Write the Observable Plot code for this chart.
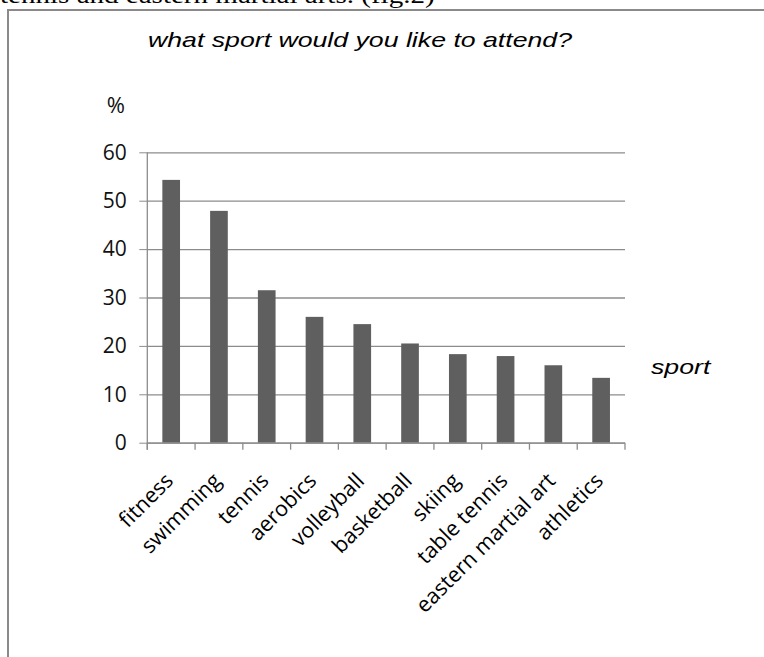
<!DOCTYPE html>
<html><head><meta charset="utf-8">
<script src="https://cdn.jsdelivr.net/npm/d3@7"></script>
<script src="https://cdn.jsdelivr.net/npm/@observablehq/plot@0.6"></script>
<style>
body{margin:0;background:#fff;}
#wrap{position:relative;width:764px;height:657px;overflow:hidden;background:#fff;}
#doc{position:absolute;left:0;top:-17px;font-family:"Liberation Serif","Times New Roman",serif;font-size:24px;line-height:24px;white-space:nowrap;transform:scaleX(1.21);transform-origin:0 0;color:#000;}
#box{position:absolute;left:7px;top:9px;width:800px;height:700px;border-left:2px solid #8a8a8a;border-top:2px solid #8a8a8a;}
#chart{position:absolute;left:0;top:0;}
.it{position:absolute;font-family:"Liberation Sans",Arial,sans-serif;font-style:italic;font-size:21px;line-height:21px;white-space:nowrap;transform:scaleX(1.27);transform-origin:0 0;color:#000;}
#pct{position:absolute;right:639px;top:93px;font-family:"Open Sans",sans-serif;font-size:22px;line-height:22px;color:#111;}
</style>
</head><body>
<div id="wrap">
  <div id="doc">tennis and eastern martial arts. (fig.2)</div>
  <div id="box"></div>
  <div id="chart"></div>
  <div class="it" id="title" style="left:148px;top:29px;">what sport would you like to attend?</div>
  <div class="it" id="xl" style="left:651px;top:356px;">sport</div>
  <div id="pct">%</div>
</div>
<script>
const categories = ["fitness","swimming","tennis","aerobics","volleyball","basketball","skiing","table tennis","eastern martial art","athletics"];
const values = [54.3, 47.9, 31.5, 26.0, 24.5, 20.5, 18.3, 17.9, 16.0, 13.4];
const yTicks = [0, 10, 20, 30, 40, 50, 60];
const data = categories.map((c, i) => ({sport: c, value: values[i]}));

const gray = "#8c8c8c";

function boundaryTicks(index, scales, values, dims) {
  const x = scales.x, y = scales.y;
  const step = x.step();
  const x0 = x.range()[0];
  const y0 = y(0);
  const g = d3.create("svg:g").attr("stroke", gray).attr("stroke-width", 1.3).attr("fill", "none");
  g.append("line").attr("x1", x0).attr("x2", x0).attr("y1", y(yTicks[yTicks.length-1])).attr("y2", y0 + 7);
  for (let i = 0; i <= categories.length; i++) {
    const xx = x0 + i * step;
    g.append("line").attr("x1", xx).attr("x2", xx).attr("y1", y0).attr("y2", y0 + 7);
  }
  return g.node();
}

const chart = Plot.plot({
  width: 764,
  height: 657,
  marginTop: 152.3,
  marginBottom: 214.3,
  marginLeft: 147.3,
  marginRight: 139,
  style: {background: "transparent", fontFamily: "'Open Sans', sans-serif"},
  x: {domain: categories, paddingInner: 0.63, paddingOuter: 0.315, round: false, label: null},
  y: {domain: [0, 60], label: null},
  marks: [
    Plot.gridY(yTicks, {stroke: gray, strokeOpacity: 1, strokeWidth: 1.3}),
    Plot.barY(data, {x: "sport", y: "value", fill: "#5f5f5f"}),
    Plot.ruleY([0], {stroke: gray, strokeWidth: 1.3}),
    boundaryTicks,
    Plot.axisY({ticks: yTicks, tickSize: 8, tickPadding: 13, fontSize: 21, stroke: gray, fill: "#111", label: null}),
    Plot.axisX({tickSize: 0, tickPadding: 34, dx: -2, tickRotate: -45, fontSize: 21.5, fill: "#000", label: null})
  ]
});
document.getElementById("chart").appendChild(chart);
</script>
</body></html>
